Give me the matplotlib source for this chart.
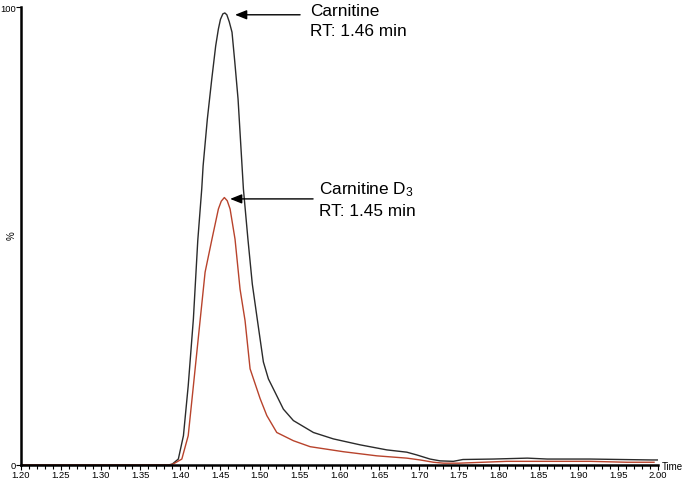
import matplotlib
matplotlib.use("Agg")
import matplotlib.pyplot as plt
import numpy as np

plt.rcParams['font.family'] = ['Liberation Sans', 'DejaVu Sans']
plt.rcParams['mathtext.fontset'] = 'custom'
plt.rcParams['mathtext.rm'] = 'Liberation Sans'

# === data ===
# Carnitine (black trace)
time_carn = [1.200, 1.385, 1.390, 1.3976, 1.404, 1.410, 1.4165, 1.422, 1.427, 1.4287,
             1.434, 1.4396, 1.4445, 1.4479, 1.4505, 1.4535, 1.456, 1.4585, 1.4615, 1.465,
             1.4685, 1.4726, 1.4793, 1.485, 1.4905, 1.497,
             1.5044, 1.5107, 1.519, 1.5295, 1.5421, 1.5672, 1.5923, 1.6259, 1.6594, 1.6845,
             1.697, 1.7137, 1.7263, 1.743, 1.755, 1.793, 1.836, 1.861, 1.915, 1.992, 2.000]
int_carn = [0, 0, 0.2, 1.3, 6.4, 17.3, 31.9, 49.0, 60.3, 65.3,
            75.5, 84.3, 91.5, 95.2, 97.3, 98.5, 98.7, 98.3, 96.8, 94.5,
            88.0, 79.9, 60.3, 49.3, 39.5, 31.5,
            22.5, 18.8, 15.9, 12.2, 9.7, 7.1, 5.7, 4.4, 3.3, 2.8,
            2.2, 1.3, 0.9, 0.8, 1.2, 1.3, 1.5, 1.3, 1.3, 1.1, 1.1]

# Carnitine D3 (red trace)
time_d3 = [1.200, 1.387, 1.392, 1.402, 1.410, 1.4165, 1.4249, 1.4312, 1.4398, 1.4479,
           1.4515, 1.4554, 1.459, 1.4626, 1.4688, 1.4751, 1.4814, 1.4877, 1.5003, 1.5087,
           1.5212, 1.5421, 1.5631, 1.6049, 1.6469, 1.6845, 1.7013, 1.718, 1.7306, 1.750,
           1.780, 1.810, 1.860, 1.915, 1.961, 1.995]
int_d3 = [0, 0, 0.3, 1.3, 6.4, 17.3, 31.5, 42.1, 49.3, 55.9,
          57.6, 58.4, 57.7, 55.9, 49.3, 38.4, 31.5, 21.0, 14.5, 10.8,
          7.1, 5.3, 4.0, 2.9, 2.0, 1.5, 1.1, 0.6, 0.4, 0.4,
          0.6, 0.8, 0.8, 0.8, 0.6, 0.6]

x_major = np.round(np.arange(1.20, 2.001, 0.05), 2)
x_minor = np.round(np.arange(1.20, 2.001, 0.01), 2)

# === plot ===
fig = plt.figure(figsize=(6.85, 4.81), dpi=100)
ax = fig.add_axes([21 / 685, 15 / 481, (658 - 21) / 685, (466 - 8) / 481])

ax.plot(time_carn, int_carn, color="#2b2b2b", lw=1.0)
ax.plot(time_d3, int_d3, color="#b8432c", lw=1.0)

ax.set_xlim(1.20, 2.00)
ax.set_ylim(0, 100)

for side in ["top", "right"]:
    ax.spines[side].set_visible(False)
ax.spines["left"].set_linewidth(1.8)
ax.spines["bottom"].set_linewidth(1.8)

ax.set_xticks(x_major)
ax.set_xticklabels([f"{v:.2f}" for v in x_major])
ax.set_xticks(x_minor, minor=True)
ax.set_yticks([0, 100])
ax.set_yticklabels(["0", "100"])
ax.tick_params(axis="both", which="major", direction="out", length=3.5, width=0.8,
               labelsize=6.8, pad=0.3)
ax.tick_params(axis="x", which="minor", direction="out", length=3, width=0.8)

fig.text(12 / 685, 1 - 236 / 481, "%", rotation=90, fontsize=7, ha="center", va="center")
fig.text(662 / 685, 1 - 467 / 481, "Time", fontsize=7, ha="left", va="center")

# annotations (label lines placed by baseline, in figure pixels)
arrow = dict(arrowstyle="-|>,head_length=0.5,head_width=0.2", color="black", lw=1.0,
             mutation_scale=14, shrinkA=0, shrinkB=0)
ax.annotate("", xy=(1.4688, 98.3), xytext=(1.5505, 98.3), arrowprops=arrow)
fig.text(310 / 685, 1 - 16.5 / 481, "Carnitine", fontsize=12.4, va="baseline")
fig.text(310 / 685, 1 - 35.5 / 481, "RT: 1.46 min", fontsize=12.4, va="baseline")

ax.annotate("", xy=(1.4626, 58.1), xytext=(1.5668, 58.1), arrowprops=arrow)
fig.text(319 / 685, 1 - 194.5 / 481, "Carnitine $\\mathregular{D_3}$", fontsize=12.4,
         va="baseline")
fig.text(319 / 685, 1 - 216.5 / 481, "RT: 1.45 min", fontsize=12.4, va="baseline")

fig.savefig("out.png", dpi=100)
